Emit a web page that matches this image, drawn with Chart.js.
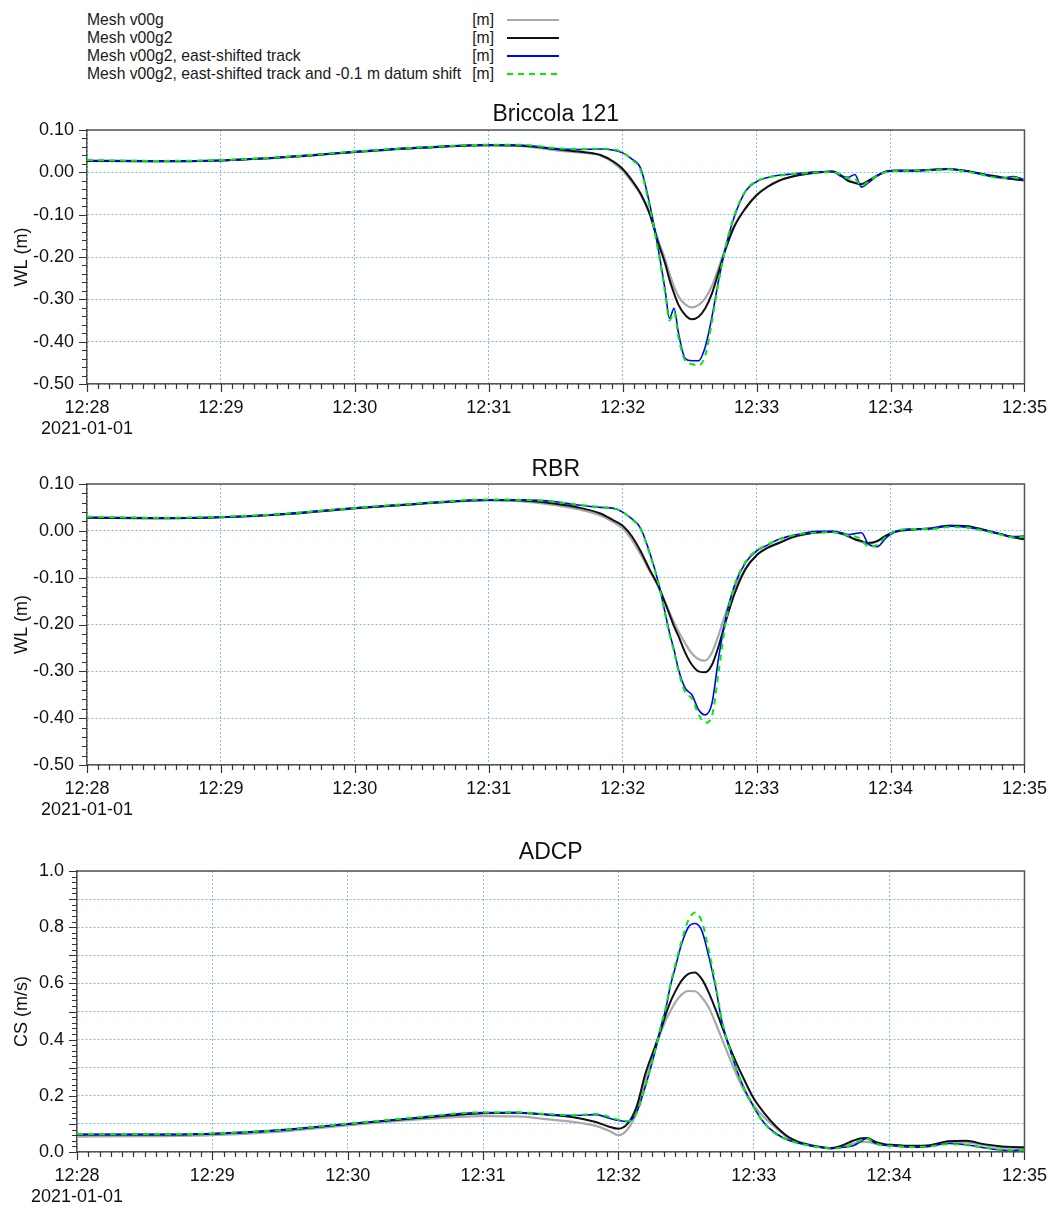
<!DOCTYPE html>
<html>
<head>
<meta charset="utf-8">
<script src="https://cdn.jsdelivr.net/npm/chart.js@4"></script>
<style>
  body { margin: 0; background: #fff; font-family: "Liberation Sans", Arial, sans-serif; }
  #page { position: relative; width: 1053px; height: 1208px; }
  .box { position: absolute; left: 0; width: 1053px; }
  .leg { position: absolute; font-size: 15.7px; color: #1a1a1a; line-height: 18px; white-space: nowrap; }
</style>
</head>
<body>
<div id="page">
  <div id="legend"></div>
  <div class="box" style="top:95px;height:345px"><canvas id="c1"></canvas></div>
  <div class="box" style="top:450px;height:371px"><canvas id="c2"></canvas></div>
  <div class="box" style="top:830px;height:378px"><canvas id="c3"></canvas></div>
</div>
<script>
// seconds after 12:28:00
const times = [0, 30, 60, 90, 120, 150, 180, 195, 210, 220, 230, 236, 240, 244, 248, 252, 256, 259,
  261, 263, 265, 268, 271, 274, 277, 280, 283, 286, 290, 295, 300, 305, 310, 316, 322, 328,
  334, 338, 341, 344, 347, 350, 354, 358, 362, 370, 378, 386, 394, 402, 410, 415, 420];

const seriesNames = ["Mesh v00g", "Mesh v00g2", "Mesh v00g2, east-shifted track",
  "Mesh v00g2, east-shifted track and -0.1 m datum shift"];
const seriesUnit = "[m]";
const xTickLabels = ["12:28", "12:29", "12:30", "12:31", "12:32", "12:33", "12:34", "12:35"];
const dateLabel = "2021-01-01";

// Briccola 121 - WL (m)
const bricV00g = [0.027, 0.026, 0.028, 0.036, 0.048, 0.058, 0.064, 0.062, 0.052, 0.047, 0.040, 0.022,
  0.004, -0.022, -0.052, -0.095, -0.162, -0.205, -0.240, -0.270, -0.293, -0.312, -0.319, -0.313,
  -0.297, -0.268, -0.225, -0.180, -0.127, -0.085, -0.053, -0.033, -0.019, -0.010, -0.004, 0.000,
  0.002, -0.008, -0.018, -0.024, -0.027, -0.020, -0.008, 0.002, 0.004, 0.004, 0.006, 0.008,
  0.003, -0.005, -0.012, -0.016, -0.019];
const bricV00g2 = [0.027, 0.026, 0.028, 0.036, 0.048, 0.058, 0.064, 0.063, 0.055, 0.049, 0.041, 0.025,
  0.008, -0.018, -0.050, -0.097, -0.168, -0.215, -0.254, -0.286, -0.313, -0.337, -0.347, -0.341,
  -0.321, -0.286, -0.235, -0.183, -0.128, -0.085, -0.054, -0.034, -0.020, -0.010, -0.004, 0.000,
  0.002, -0.008, -0.020, -0.025, -0.028, -0.020, -0.008, 0.002, 0.004, 0.004, 0.006, 0.008,
  0.003, -0.005, -0.012, -0.016, -0.019];
const bricEast = [0.028, 0.027, 0.028, 0.037, 0.049, 0.059, 0.065, 0.064, 0.056, 0.054, 0.055, 0.052,
  0.046, 0.032, 0.010, -0.073, -0.183, -0.278, -0.345, -0.321, -0.380, -0.440, -0.445, -0.445,
  -0.412, -0.341, -0.254, -0.180, -0.105, -0.045, -0.022, -0.012, -0.007, -0.004, -0.001, 0.001,
  0.002, -0.010, -0.012, -0.005, -0.035, -0.025, -0.008, 0.002, 0.004, 0.004, 0.006, 0.008,
  0.003, -0.006, -0.013, -0.010, -0.018];
const bricDatum = [0.029, 0.027, 0.029, 0.037, 0.049, 0.059, 0.065, 0.065, 0.057, 0.055, 0.056, 0.054,
  0.047, 0.030, 0.006, -0.080, -0.190, -0.285, -0.350, -0.330, -0.390, -0.445, -0.453, -0.456,
  -0.432, -0.352, -0.258, -0.178, -0.102, -0.044, -0.021, -0.012, -0.008, -0.004, -0.002, 0.000,
  0.000, -0.006, -0.014, -0.015, -0.032, -0.022, -0.008, 0.001, 0.003, 0.004, 0.005, 0.007,
  0.002, -0.007, -0.014, -0.012, -0.018];

// RBR - WL (m)
const rbrV00g = [0.028, 0.027, 0.029, 0.036, 0.048, 0.058, 0.065, 0.063, 0.055, 0.046, 0.033, 0.018,
  0.005, -0.018, -0.050, -0.085, -0.120, -0.152, -0.174, -0.196, -0.215, -0.240, -0.262, -0.274,
  -0.277, -0.260, -0.222, -0.178, -0.125, -0.080, -0.052, -0.036, -0.025, -0.014, -0.007, -0.003,
  -0.002, -0.006, -0.012, -0.018, -0.024, -0.028, -0.022, -0.010, -0.002, 0.003, 0.005, 0.011,
  0.010, 0.002, -0.008, -0.014, -0.018];
const rbrV00g2 = [0.028, 0.027, 0.029, 0.036, 0.048, 0.058, 0.066, 0.065, 0.058, 0.050, 0.037, 0.022,
  0.011, -0.011, -0.043, -0.082, -0.118, -0.154, -0.179, -0.204, -0.225, -0.260, -0.286, -0.300,
  -0.302, -0.286, -0.246, -0.196, -0.136, -0.082, -0.052, -0.036, -0.026, -0.014, -0.007, -0.003,
  -0.002, -0.006, -0.011, -0.018, -0.022, -0.026, -0.022, -0.010, -0.002, 0.003, 0.005, 0.011,
  0.010, 0.002, -0.008, -0.014, -0.018];
const rbrEast = [0.029, 0.028, 0.029, 0.037, 0.049, 0.059, 0.066, 0.066, 0.062, 0.055, 0.050, 0.048,
  0.040, 0.026, 0.006, -0.045, -0.110, -0.175, -0.218, -0.254, -0.296, -0.336, -0.350, -0.382,
  -0.393, -0.368, -0.270, -0.190, -0.118, -0.068, -0.043, -0.030, -0.018, -0.010, -0.004, -0.001,
  -0.001, -0.004, -0.008, -0.006, -0.004, -0.028, -0.034, -0.015, -0.002, 0.004, 0.005, 0.010,
  0.008, 0.001, -0.008, -0.012, -0.011];
const rbrDatum = [0.030, 0.028, 0.030, 0.037, 0.049, 0.059, 0.067, 0.066, 0.062, 0.056, 0.051, 0.048,
  0.040, 0.025, 0.004, -0.048, -0.112, -0.178, -0.222, -0.258, -0.300, -0.345, -0.358, -0.392,
  -0.410, -0.395, -0.300, -0.200, -0.118, -0.066, -0.042, -0.029, -0.018, -0.010, -0.005, -0.004,
  -0.003, -0.006, -0.010, -0.012, -0.018, -0.034, -0.030, -0.012, -0.001, 0.004, 0.004, 0.008,
  0.007, 0.000, -0.009, -0.014, -0.013];

// ADCP - CS (m/s)
const adcpV00g = [0.055, 0.056, 0.060, 0.072, 0.095, 0.115, 0.128, 0.127, 0.115, 0.107, 0.093, 0.075,
  0.060, 0.080, 0.140, 0.260, 0.360, 0.430, 0.470, 0.500, 0.530, 0.560, 0.573, 0.572,
  0.550, 0.515, 0.460, 0.400, 0.320, 0.230, 0.165, 0.120, 0.085, 0.045, 0.030, 0.020,
  0.013, 0.018, 0.024, 0.030, 0.035, 0.036, 0.030, 0.025, 0.022, 0.020, 0.022, 0.034,
  0.034, 0.024, 0.016, 0.014, 0.012];
const adcpV00g2 = [0.062, 0.062, 0.065, 0.078, 0.100, 0.120, 0.138, 0.140, 0.132, 0.124, 0.107, 0.090,
  0.083, 0.100, 0.160, 0.280, 0.370, 0.440, 0.490, 0.533, 0.568, 0.610, 0.634, 0.639,
  0.615, 0.568, 0.509, 0.445, 0.360, 0.270, 0.190, 0.135, 0.090, 0.050, 0.030, 0.020,
  0.014, 0.020, 0.030, 0.040, 0.048, 0.050, 0.036, 0.028, 0.025, 0.022, 0.024, 0.038,
  0.040, 0.028, 0.020, 0.018, 0.017];
const adcpEast = [0.062, 0.062, 0.065, 0.077, 0.100, 0.122, 0.140, 0.140, 0.133, 0.130, 0.133, 0.120,
  0.112, 0.108, 0.140, 0.235, 0.350, 0.450, 0.510, 0.590, 0.650, 0.740, 0.800, 0.813,
  0.787, 0.698, 0.590, 0.460, 0.350, 0.240, 0.160, 0.100, 0.065, 0.040, 0.028, 0.018,
  0.012, 0.016, 0.018, 0.022, 0.035, 0.048, 0.030, 0.024, 0.022, 0.017, 0.020, 0.030,
  0.026, 0.015, 0.007, 0.005, 0.010];
const adcpDatum = [0.064, 0.063, 0.066, 0.078, 0.101, 0.123, 0.141, 0.141, 0.134, 0.131, 0.135, 0.125,
  0.115, 0.110, 0.138, 0.235, 0.352, 0.455, 0.515, 0.595, 0.660, 0.750, 0.825, 0.852,
  0.820, 0.720, 0.600, 0.465, 0.350, 0.238, 0.158, 0.098, 0.063, 0.040, 0.027, 0.018,
  0.013, 0.014, 0.018, 0.028, 0.040, 0.048, 0.030, 0.023, 0.021, 0.018, 0.020, 0.028,
  0.025, 0.016, 0.008, 0.006, 0.008];

const colors = ["#a9a9a9", "#111111", "#0000ff", "#00ee00"];
const widths = [2.2, 2, 1.6, 2];
const font = '"Liberation Sans", Arial, sans-serif';

// legend above the charts
const legend = document.getElementById("legend");
seriesNames.forEach((name, i) => {
  const y = 11 + i * 18;
  legend.insertAdjacentHTML("beforeend",
    `<div class="leg" style="left:87px;top:${y}px">${name}</div>` +
    `<div class="leg" style="left:440px;width:54px;text-align:right;top:${y}px">${seriesUnit}</div>` +
    `<svg style="position:absolute;left:507px;top:${y + 3}px" width="52" height="12">` +
    `<line x1="0" y1="6" x2="52" y2="6" stroke="${colors[i]}" stroke-width="2"` +
    (i === 3 ? ` stroke-dasharray="6 5"` : ``) + `/></svg>`);
});

function isStep(v, step) {
  const r = v / step;
  return Math.abs(r - Math.round(r)) < 1e-6;
}

// top and right edge of the plot frame
const framePlugin = {
  id: "frame",
  afterDatasetsDraw(chart) {
    const {ctx, chartArea: a} = chart;
    ctx.save();
    ctx.strokeStyle = "#555";
    ctx.lineWidth = 1.5;
    ctx.beginPath();
    ctx.moveTo(a.left, a.top);
    ctx.lineTo(a.right, a.top);
    ctx.lineTo(a.right, a.bottom);
    ctx.stroke();
    ctx.restore();
  }
};

// tick marks on the axes, longer at the gridline values
const tickMarks = {
  id: "tickMarks",
  afterDraw(chart) {
    const {ctx} = chart;
    const xs = chart.scales.x;
    const ys = chart.scales.y;
    ctx.save();
    ctx.strokeStyle = "#333";
    ctx.lineWidth = 1.2;
    ctx.beginPath();
    xs.ticks.forEach(t => {
      const px = Math.round(xs.getPixelForValue(t.value)) + 0.5;
      const len = isStep(t.value, 60) ? 8 : 5;
      ctx.moveTo(px, xs.top);
      ctx.lineTo(px, xs.top + len);
    });
    ys.ticks.forEach(t => {
      const py = Math.round(ys.getPixelForValue(t.value)) + 0.5;
      const len = isStep(t.value, 0.1) ? 8 : 5;
      ctx.moveTo(ys.right - len, py);
      ctx.lineTo(ys.right, py);
    });
    ctx.stroke();
    ctx.restore();
  }
};

function makeChart(id, title, yTitle, series, yMin, yMax, labelStep, decimals, axisWidth, padTop, padBottom) {
  const datasets = series.map((vals, i) => ({
    label: seriesNames[i],
    data: times.map((t, k) => ({x: t, y: vals[k]})),
    borderColor: colors[i],
    borderWidth: widths[i],
    borderDash: i === 3 ? [6, 5] : [],
    pointRadius: 0,
    cubicInterpolationMode: "monotone",
    order: 4 - i
  }));

  return new Chart(document.getElementById(id), {
    type: "line",
    data: {datasets},
    plugins: [framePlugin, tickMarks],
    options: {
      responsive: true,
      maintainAspectRatio: false,
      animation: false,
      layout: {padding: {left: 0, right: 27, top: 0, bottom: 0}},
      plugins: {
        legend: {display: false},
        tooltip: {enabled: false},
        title: {
          display: true,
          fullSize: false,
          text: title,
          color: "#111",
          font: {family: font, size: 23, weight: "normal", lineHeight: 1.2},
          padding: {top: padTop, bottom: padBottom}
        }
      },
      scales: {
        x: {
          type: "linear",
          min: 0,
          max: 420,
          afterFit: s => { s.height = 56; },
          ticks: {
            stepSize: 5,
            autoSkip: false,
            maxRotation: 0,
            padding: 6,
            color: "#111",
            font: {family: font, size: 18},
            callback: v => {
              if (!isStep(v, 60)) return "";
              const lab = xTickLabels[Math.round(v / 60)];
              return v === 0 ? [lab, dateLabel] : lab;
            }
          },
          grid: {
            color: c => (isStep(c.tick.value, 60) ? "rgba(90,160,240,0.75)" : "rgba(0,0,0,0)"),
            tickColor: "rgba(0,0,0,0)",
            tickLength: 7,
            tickBorderDash: [],
            lineWidth: 1
          },
          border: {color: "#555", width: 1.5, dash: [2, 2]}
        },
        y: {
          min: yMin,
          max: yMax,
          afterFit: s => { s.width = axisWidth; },
          title: {
            display: true,
            text: yTitle,
            color: "#111",
            font: {family: font, size: 18},
            padding: {top: 11, bottom: 0}
          },
          ticks: {
            stepSize: 0.02,
            autoSkip: false,
            padding: 6,
            color: "#111",
            font: {family: font, size: 18},
            callback: v => (isStep(v, labelStep) ? v.toFixed(decimals) : "")
          },
          grid: {
            color: c => (isStep(c.tick.value, 0.1) ? "rgba(90,160,240,0.75)" : "rgba(0,0,0,0)"),
            tickColor: "rgba(0,0,0,0)",
            tickLength: 7,
            tickBorderDash: [],
            lineWidth: 1
          },
          border: {color: "#555", width: 1.5, dash: [2, 2]}
        }
      }
    }
  });
}

makeChart("c1", "Briccola 121", "WL (m)", [bricV00g, bricV00g2, bricEast, bricDatum],
  -0.5, 0.1, 0.1, 2, 87, 6, 1.4);
makeChart("c2", "RBR", "WL (m)", [rbrV00g, rbrV00g2, rbrEast, rbrDatum],
  -0.5, 0.1, 0.1, 2, 87, 6, 0.4);
makeChart("c3", "ADCP", "CS (m/s)", [adcpV00g, adcpV00g2, adcpEast, adcpDatum],
  0, 1.0, 0.2, 1, 77, 9, 4.4);
</script>
</body>
</html>
